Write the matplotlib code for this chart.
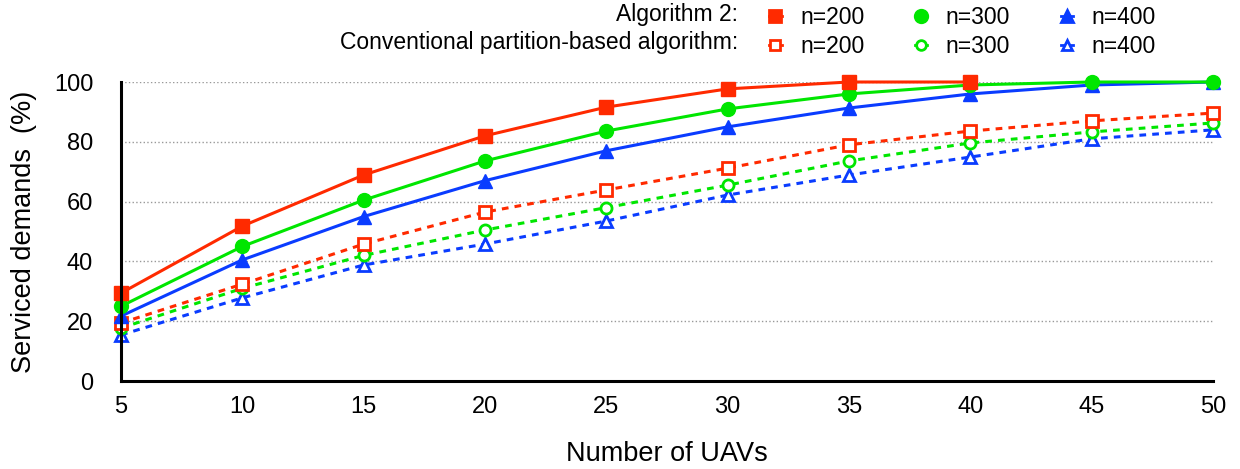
import numpy as np
import matplotlib
matplotlib.use('Agg')
import matplotlib.pyplot as plt
from matplotlib.lines import Line2D

plt.rcParams['font.family'] = ['Liberation Sans', 'DejaVu Sans']

# Data
uavs = [5, 10, 15, 20, 25, 30, 35, 40, 45, 50]
alg2_n200 = [29.4, 51.8, 68.9, 82.0, 91.6, 97.7, 100, 100, np.nan, np.nan]
alg2_n300 = [25.0, 45.0, 60.5, 73.6, 83.6, 91.0, 96.0, 99.0, 100, 100]
alg2_n400 = [21.7, 40.5, 55.0, 67.0, 77.0, 85.0, 91.3, 96.0, 99.0, 100]
conv_n200 = [19.4, 32.4, 45.8, 56.5, 63.9, 71.2, 79.0, 83.6, 87.0, 89.6]
conv_n300 = [17.7, 31.0, 42.0, 50.5, 58.0, 65.5, 73.6, 79.6, 83.3, 86.3]
conv_n400 = [15.4, 27.8, 38.8, 45.8, 53.5, 62.2, 68.9, 74.9, 81.0, 84.0]

RED = '#ff2a00'
GREEN = '#00e600'
BLUE = '#0a3cff'

fig = plt.figure(figsize=(12.4, 4.69), dpi=100)
ax = fig.add_axes([121/1240, 1 - 381/469, (1213-121)/1240, (381-82)/469])

dash = (0, (2.2, 2.0))
# dashed series (hollow markers)
ax.plot(uavs, conv_n400, ls=dash, color=BLUE, lw=2.2, marker='^', ms=8, mfc='white', mec=BLUE, mew=2, clip_on=False)
ax.plot(uavs, conv_n300, ls=dash, color=GREEN, lw=2.2, marker='o', ms=8, mfc='white', mec=GREEN, mew=2, clip_on=False)
ax.plot(uavs, conv_n200, ls=dash, color=RED, lw=2.2, marker='s', ms=8, mfc='white', mec=RED, mew=2, clip_on=False)
# solid series
ax.plot(uavs, alg2_n400, '-', color=BLUE, lw=2.2, marker='^', ms=10, clip_on=False)
ax.plot(uavs, alg2_n300, '-', color=GREEN, lw=2.2, marker='o', ms=10, clip_on=False)
ax.plot(uavs, alg2_n200, '-', color=RED, lw=2.2, marker='s', ms=10, clip_on=False)

ax.set_xlim(5, 50)
ax.set_ylim(0, 100)
ax.set_xticks(uavs)
ax.set_yticks([0, 20, 40, 60, 80, 100])
ax.tick_params(length=0, labelsize=17)
ax.tick_params(axis='y', pad=20)
ax.tick_params(axis='x', pad=11)
ax.yaxis.grid(True, linestyle=':', color='#999999', lw=1)
ax.set_axisbelow(True)
for s in ['top', 'right']:
    ax.spines[s].set_visible(False)
for s in ['left', 'bottom']:
    ax.spines[s].set_linewidth(2.2)
ax.set_xlabel('Number of UAVs', fontsize=19.5, labelpad=16)
ax.set_ylabel('Serviced demands  (%)', fontsize=19.5, labelpad=12)

# legend: small marker with a short line stub, rows labelled with text
def h(marker, color, filled, ms):
    return Line2D([], [], ls='-', lw=2, color=color, marker=marker, ms=ms, mec=color, mew=2,
                  mfc=color if filled else 'white')

handles = [h('s', RED, True, 9), h('s', RED, False, 7),
           h('o', GREEN, True, 9), h('o', GREEN, False, 7),
           h('^', BLUE, True, 9), h('^', BLUE, False, 7)]
labels = ['n=200', 'n=200', 'n=300', 'n=300', 'n=400', 'n=400']
fig.legend(handles, labels, ncol=3, frameon=False, fontsize=16.5,
           loc='upper left', bbox_to_anchor=(760/1240, 1 + 3/469),
           handlelength=0.55, handletextpad=0.8, columnspacing=2.2,
           labelspacing=0.25, borderaxespad=0)
fig.text(738/1240, 1 - 14/469, 'Algorithm 2:', ha='right', va='center', fontsize=16.5)
fig.text(738/1240, 1 - 43/469, 'Conventional partition-based algorithm:', ha='right', va='center', fontsize=16.5)

fig.savefig('out.png', dpi=100)
